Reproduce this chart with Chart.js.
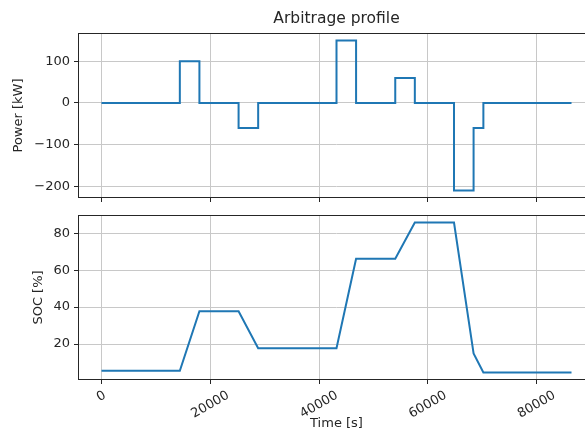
<!DOCTYPE html>
<html>
<head>
<meta charset="utf-8">
<title>Arbitrage profile</title>
<script src="https://cdn.jsdelivr.net/npm/chart.js@4.4.1/dist/chart.umd.min.js"></script>
<style>
    html, body { margin: 0; padding: 0; background: #fff; overflow: hidden; }
    .wrap { position: relative; width: 585px; height: 441px; overflow: hidden; }
    .wrap canvas { position: absolute; left: 0; top: 0; }
</style>
</head>
<body>
<div class="wrap">
    <canvas id="power-chart" width="620" height="441"></canvas>
    <canvas id="soc-chart" width="620" height="441"></canvas>
</div>
<script>
    // Data
    var timeTicks = [0, 20000, 40000, 60000, 80000];
    var powerTicks = [-200, -100, 0, 100];
    var socTicks = [20, 40, 60, 80];

    var powerTime = [0, 14400, 18000, 25200, 28800, 43200, 46800, 54000, 57600, 64800, 68400, 70200, 86400];
    var powerKw = [0, 100, 0, -60, 0, 150, 0, 60, 0, -210, -60, 0, 0];

    var socTime = [0, 14400, 18000, 25200, 28800, 43200, 46800, 54000, 57600, 64800, 68400, 70200, 86400];
    var socPct = [5.5, 5.5, 37.8, 37.8, 17.7, 17.7, 66.2, 66.2, 85.8, 85.8, 14.9, 4.6, 4.6];

    var FONT = "'DejaVu Sans', 'Liberation Sans', sans-serif";
    var LINE = '#1f77b4';
    var GRID = '#c8c8c8';
    var INK = '#262626';

    Chart.defaults.font.family = FONT;
    Chart.defaults.font.size = 13;
    Chart.defaults.color = INK;

    // matplotlib style 5% margins
    function padRange(values) {
        var lo = Math.min.apply(null, values);
        var hi = Math.max.apply(null, values);
        var m = (hi - lo) * 0.05;
        return { min: lo - m, max: hi + m };
    }
    var xRange = padRange(powerTime.concat(socTime));
    var powerRange = padRange(powerKw);
    var socRange = padRange(socPct);

    function points(xs, ys) {
        return xs.map(function(x, i) { return { x: x, y: ys[i] }; });
    }

    function fixedTicks(list) {
        return function(scale) {
            scale.ticks = list.map(function(v) { return { value: v }; });
        };
    }

    // Frame, titles and rotated time labels
    var frame = {
        id: 'frame',
        afterDraw: function(chart, args, opts) {
            var ctx = chart.ctx;
            var a = chart.chartArea;
            ctx.save();
            ctx.strokeStyle = INK;
            ctx.lineWidth = 1;
            ctx.strokeRect(Math.round(a.left) + 0.5, Math.round(a.top) + 0.5,
                Math.round(a.right - a.left), Math.round(a.bottom - a.top) - 1);

            ctx.fillStyle = INK;
            if (opts.title) {
                ctx.font = '15.5px ' + FONT;
                ctx.textAlign = 'center';
                ctx.textBaseline = 'alphabetic';
                ctx.fillText(opts.title, (a.left + a.right) / 2, 23);
            }

            if (opts.yTitle) {
                ctx.save();
                ctx.font = '13px ' + FONT;
                ctx.textAlign = 'center';
                ctx.textBaseline = 'middle';
                ctx.translate(opts.yTitleX, (a.top + a.bottom) / 2);
                ctx.rotate(-Math.PI / 2);
                ctx.fillText(opts.yTitle, 0, 0);
                ctx.restore();
            }

            if (opts.timeLabels) {
                var xs = chart.scales.x;
                ctx.font = '13px ' + FONT;
                ctx.textAlign = 'center';
                ctx.textBaseline = 'middle';
                timeTicks.forEach(function(v) {
                    var label = String(v);
                    var w = ctx.measureText(label).width;
                    var h = w * 0.5 + 15 * 0.866;
                    ctx.save();
                    ctx.translate(xs.getPixelForValue(v), a.bottom + 8 + h / 2);
                    ctx.rotate(-Math.PI / 6);
                    ctx.fillText(label, 0, 0);
                    ctx.restore();
                });
                ctx.fillText(opts.xTitle, (a.left + a.right) / 2, 424);
            }
            ctx.restore();
        }
    };

    function makeChart(id, data, stepped, yRange, yTicks, top, bottom, plotOpts) {
        var ctx = document.getElementById(id).getContext('2d');
        return new Chart(ctx, {
            type: 'line',
            data: {
                datasets: [{
                    data: data,
                    borderColor: LINE,
                    borderWidth: 2,
                    pointRadius: 0,
                    fill: false,
                    tension: 0,
                    stepped: stepped
                }]
            },
            options: {
                responsive: false,
                animation: false,
                layout: { padding: { top: top, right: 25, left: 0, bottom: 0 } },
                plugins: {
                    legend: { display: false },
                    tooltip: { enabled: false },
                    frame: plotOpts
                },
                scales: {
                    x: {
                        type: 'linear',
                        min: xRange.min,
                        max: xRange.max,
                        afterBuildTicks: fixedTicks(timeTicks),
                        afterFit: function(scale) { scale.height = 441 - bottom; },
                        ticks: { display: false },
                        grid: { color: GRID, lineWidth: 1, tickLength: 4, tickColor: INK },
                        border: { display: false }
                    },
                    y: {
                        type: 'linear',
                        min: yRange.min,
                        max: yRange.max,
                        afterBuildTicks: fixedTicks(yTicks),
                        afterFit: function(scale) { scale.width = 78; },
                        ticks: {
                            padding: 4,
                            color: INK,
                            callback: function(v) { return String(v).replace('-', '\u2212'); }
                        },
                        grid: { color: GRID, lineWidth: 1, tickLength: 4, tickColor: INK },
                        border: { display: false }
                    }
                }
            },
            plugins: [frame]
        });
    }

    // Power profile (step)
    makeChart('power-chart', points(powerTime, powerKw), 'before', powerRange, powerTicks, 33, 198, {
        title: 'Arbitrage profile',
        yTitle: 'Power [kW]',
        yTitleX: 19
    });

    // State of charge
    makeChart('soc-chart', points(socTime, socPct), false, socRange, socTicks, 215, 380, {
        yTitle: 'SOC [%]',
        yTitleX: 39,
        timeLabels: true,
        xTitle: 'Time [s]'
    });
</script>
</body>
</html>
